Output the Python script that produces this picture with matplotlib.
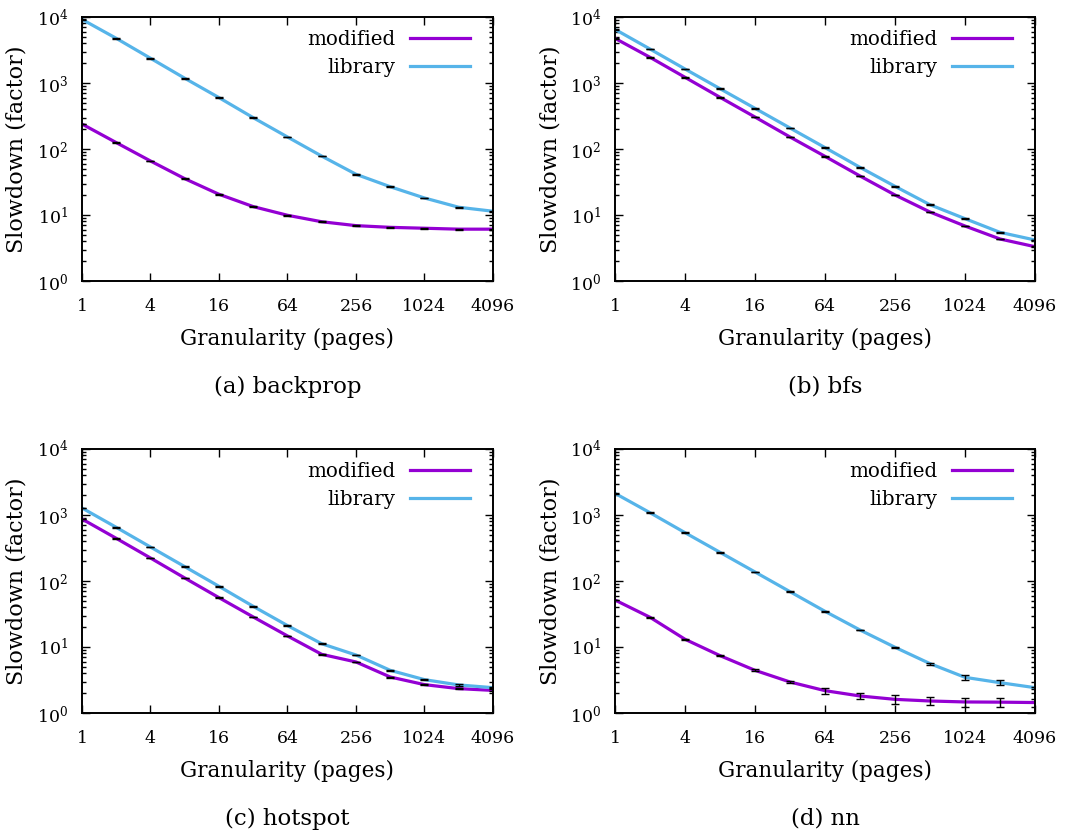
import matplotlib
matplotlib.use("Agg")
import matplotlib.pyplot as plt
from matplotlib.ticker import FixedLocator, LogLocator, NullLocator, FixedFormatter

plt.rcParams["font.family"] = ["DejaVu Serif"]
plt.rcParams["mathtext.fontset"] = "dejavuserif"
plt.rcParams["font.size"] = 12.5

# granularity in pages
pages = [1, 2, 4, 8, 16, 32, 64, 128, 256, 512, 1024, 2048, 4096]
xtick_vals = [1, 4, 16, 64, 256, 1024, 4096]
xtick_labels = ["1", "4", "16", "64", "256", "1024", "4096"]
ytick_vals = [1, 10, 100, 1000, 10000]
ytick_labels = ["$10^{0}$", "$10^{1}$", "$10^{2}$", "$10^{3}$", "$10^{4}$"]

colors = {"modified": "#9400d3", "library": "#56b4e9"}

# (a) backprop
backprop_modified = [239, 125, 65.8, 35.5, 20.6, 13.4, 9.9, 7.9, 6.9, 6.5, 6.3, 6.1, 6.1]
backprop_library = [9200, 4750, 2370, 1180, 600, 298, 152, 78, 41.4, 26.8, 18.1, 13.1, 11.4]
backprop_modified_err = [3, 1.5, 0.8, 0.4, 0.25, 0.15, 0.12, 0.1, 0.08, 0.08, 0.08, 0.08, 0.08]
backprop_library_err = [100, 50, 25, 12, 6, 3, 1.5, 0.8, 0.4, 0.3, 0.2, 0.15, 0.12]

# (b) bfs
bfs_modified = [4750, 2450, 1220, 607, 305, 152, 77.4, 39, 20.1, 11.1, 6.81, 4.33, 3.31]
bfs_library = [6500, 3270, 1630, 820, 413, 208, 105, 52.7, 27.2, 14.3, 8.8, 5.46, 4.18]
bfs_modified_err = [60, 30, 15, 8, 4, 2, 1, 0.5, 0.25, 0.15, 0.1, 0.06, 0.05]
bfs_library_err = [80, 40, 20, 10, 5, 2.5, 1.3, 0.7, 0.35, 0.2, 0.12, 0.08, 0.06]

# (c) hotspot
hotspot_modified = [870, 443, 223, 111, 55.9, 28.5, 14.7, 7.74, 5.93, 3.51, 2.69, 2.34, 2.2]
hotspot_library = [1277, 650, 327, 165, 83, 41.3, 21.1, 11.2, 7.56, 4.43, 3.2, 2.66, 2.42]
hotspot_modified_err = [12, 6, 3, 1.5, 0.8, 0.4, 0.2, 0.1, 0.08, 0.06, 0.05, 0.05, 0.08]
hotspot_library_err = [15, 8, 4, 2, 1, 0.5, 0.25, 0.15, 0.1, 0.07, 0.05, 0.05, 0.05]

# (d) nn
nn_modified = [51.5, 28.2, 13.1, 7.4, 4.43, 2.95, 2.18, 1.81, 1.61, 1.52, 1.47, 1.46, 1.44]
nn_library = [2130, 1083, 540, 272, 137, 68.9, 34.7, 18.1, 9.9, 5.6, 3.47, 2.88, 2.42]
nn_modified_err = [0.8, 0.4, 0.25, 0.18, 0.15, 0.14, 0.25, 0.2, 0.24, 0.22, 0.23, 0.22, 0.2]
nn_library_err = [25, 15, 8, 4, 2, 1, 0.6, 0.3, 0.2, 0.2, 0.28, 0.25, 0.08]

panels = [
    ("(a) backprop", backprop_modified, backprop_modified_err, backprop_library, backprop_library_err),
    ("(b) bfs", bfs_modified, bfs_modified_err, bfs_library, bfs_library_err),
    ("(c) hotspot", hotspot_modified, hotspot_modified_err, hotspot_library, hotspot_library_err),
    ("(d) nn", nn_modified, nn_modified_err, nn_library, nn_library_err),
]

W, H = 1068, 839
fig = plt.figure(figsize=(W / 100, H / 100), dpi=100)

# axes boxes in pixels: left, right, top, bottom, caption y
boxes = [(82, 493, 17, 281, 387), (615, 1035, 17, 281, 387),
         (82, 493, 449, 713, 819), (615, 1035, 449, 713, 819)]

for (caption, mod, mod_err, lib, lib_err), (l, r, t, b, cy) in zip(panels, boxes):
    ax = fig.add_axes([l / W, (H - b) / H, (r - l) / W, (b - t) / H])
    ax.set_xscale("log")
    ax.set_yscale("log")

    ax.plot(pages, mod, color=colors["modified"], lw=2.3, label="modified", zorder=2)
    ax.plot(pages, lib, color=colors["library"], lw=2.3, label="library", zorder=2)
    for vals, errs in [(mod, mod_err), (lib, lib_err)]:
        ax.errorbar(pages, vals, yerr=errs, fmt="none", ecolor="black",
                    elinewidth=1.0, capsize=3.2, capthick=1.0, zorder=3)

    ax.set_xlim(1, 4096)
    ax.set_ylim(1, 10000)

    ax.xaxis.set_major_locator(FixedLocator(xtick_vals))
    ax.xaxis.set_major_formatter(FixedFormatter(xtick_labels))
    ax.xaxis.set_minor_locator(NullLocator())
    ax.yaxis.set_major_locator(FixedLocator(ytick_vals))
    ax.yaxis.set_major_formatter(FixedFormatter(ytick_labels))
    ax.yaxis.set_minor_locator(LogLocator(base=10, subs=range(2, 10), numticks=20))

    ax.tick_params(which="both", direction="in", top=True, right=True, width=1.0)
    ax.tick_params(which="major", length=6, labelsize=12.5)
    ax.tick_params(axis="x", which="major", pad=12.5)
    ax.tick_params(axis="y", which="major", pad=10)
    ax.tick_params(which="minor", length=3)
    for sp in ax.spines.values():
        sp.set_linewidth(1.4)

    ax.set_xlabel("Granularity (pages)", fontsize=15.5, labelpad=9)
    ax.set_ylabel("Slowdown (factor)", fontsize=16)
    ax.yaxis.set_label_coords(-54 / (r - l), 0.5)

    ax.legend(loc="upper right", bbox_to_anchor=(1 - 23 / (r - l), 1 - 13 / (b - t)),
              borderaxespad=0, borderpad=0, frameon=False, markerfirst=False,
              handlelength=3.0, handletextpad=0.75, labelspacing=0.45, fontsize=14.3)

    fig.text((l + r) / 2 / W, 1 - cy / H, caption, ha="center", va="center", fontsize=16.5)

fig.savefig("out.png", dpi=100)
